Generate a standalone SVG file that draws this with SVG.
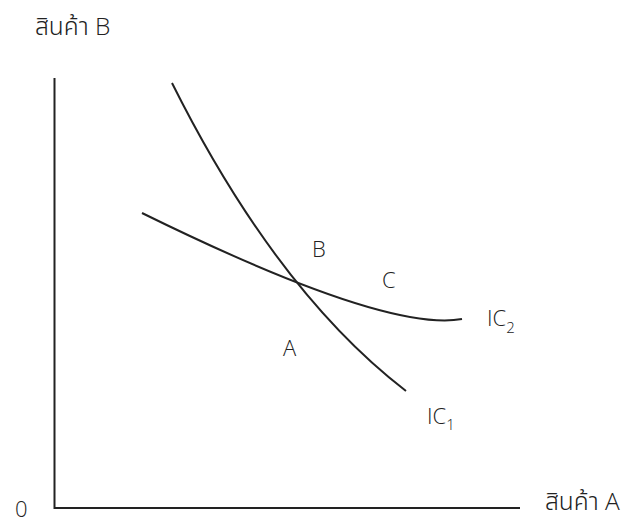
<svg xmlns="http://www.w3.org/2000/svg" width="628" height="522" viewBox="0 0 628 522">
<style>
.t{font-family:"Open Sans","Noto Sans","Noto Sans Thai",sans-serif;font-weight:300;font-size:22px;fill:#222}
.th{font-size:24.5px}
.s{font-size:15px}
.ln{fill:none;stroke:#222;stroke-width:2}
</style>
<rect width="628" height="522" fill="#fff"/>
<g id="axes">
<path class="ln" d="M54.5,78 V508 H520"/>
<text class="t th" x="35" y="35">สินค้า B</text>
<text class="t th" x="545" y="510">สินค้า A</text>
<text class="t" x="15" y="517">0</text>
</g>
<g id="connectors">
<path id="IC1-curve" class="ln" d="M172,83 Q276,291 406,391"/>
<path id="IC2-curve" class="ln" d="M142,213 C262,272 400,330 462,319"/>
</g>
<g id="IC1"><text class="t" x="427" y="424">IC<tspan class="s" dy="6">1</tspan></text></g>
<g id="IC2"><text class="t" x="487" y="326">IC<tspan class="s" dy="7">2</tspan></text></g>
<g id="pointA"><text class="t" x="283" y="356">A</text></g>
<g id="pointB"><text class="t" x="312" y="257">B</text></g>
<g id="pointC"><text class="t" x="382" y="288">C</text></g>
</svg>
